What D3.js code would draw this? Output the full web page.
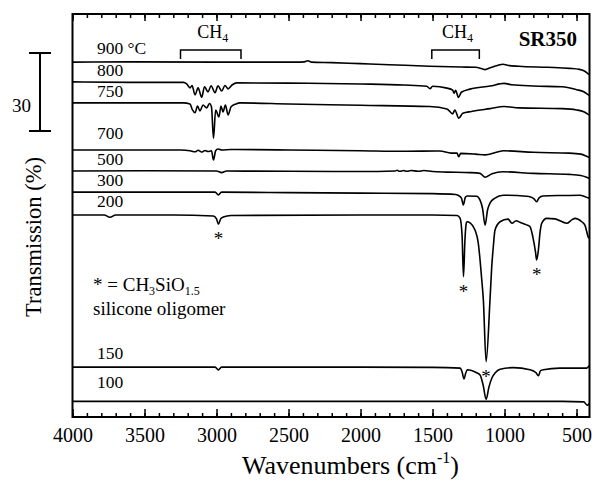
<!DOCTYPE html>
<html>
<head>
<meta charset="utf-8">
<script src="https://cdn.jsdelivr.net/npm/d3@7"></script>
<style>
  body { margin: 0; background: #fff; }
  svg { display: block; font-family: "Liberation Serif", "Times New Roman", serif; }
</style>
</head>
<body>
<svg id="chart" width="592" height="487"></svg>
<script>
// ---- data (wavenumber cm-1, transmission change in % relative to each trace's baseline)
const temps = ["900 °C", "800", "750", "700", "500", "300", "200", "150", "100"];
const baseT = [136.5, 128.7, 120.8, 102.7, 94.6, 86.5, 77.7, 19.2, 6.0];

const t900 = [[4000,0],[3600,0.1],[3000,0],[2450,0],[2390,0.1],[2365,0.5],[2340,0],[2200,-0.2],[2000,-0.6],[1800,-1.0],[1520,-1.6],[1300,-1.9],[1200,-2.0],[1160,-2.5],[1135,-2.9],[1100,-2.2],[1050,-1.3],[1010,-0.8],[980,-1.2],[900,-1.6],[700,-2.0],[550,-2.4],[480,-2.8],[440,-3.6],[420,-4.5],[413,-4.8]];
const t800 = [[4000,0.2],[3600,0],[3230,0],[3207,-0.6],[3184,-2.1],[3170,-1.2],[3149,-4.8],[3128,-2.1],[3103,-5.7],[3083,-1.7],[3059,-3.7],[3038,-1.3],[3010,-4.0],[2990,-1.3],[2964,-3.3],[2941,-1.2],[2920,-2.5],[2892,-1.0],[2860,-0.2],[2500,-0.3],[2000,-0.6],[1700,-1.0],[1540,-1.5],[1517,-2.4],[1500,-1.5],[1400,-2.2],[1360,-3.0],[1350,-4.2],[1340,-3.0],[1320,-5.8],[1300,-3.8],[1240,-2.6],[1100,-1.4],[1003,-0.4],[950,-0.9],[800,-1.4],[600,-1.7],[500,-2.8],[450,-3.6],[425,-4.5],[413,-5.0]];
const t750 = [[4000,0],[3230,0],[3184,-0.4],[3167,-2.7],[3149,-3.8],[3132,-1.2],[3115,-3.1],[3094,-0.8],[3068,-1.9],[3049,-0.2],[3035,-1.5],[3021,-13.6],[3006,-2.7],[2983,-5.4],[2969,-1.2],[2955,-3.5],[2938,-0.8],[2920,-4.6],[2899,-1.5],[2865,-0.4],[2837,0],[2500,-0.4],[2000,-0.9],[1520,-1.4],[1400,-2.3],[1360,-4.2],[1345,-2.7],[1318,-5.9],[1290,-4.0],[1230,-3.3],[1100,-2.2],[1003,-1.4],[900,-1.9],[600,-2.2],[500,-2.7],[450,-3.4],[425,-4.2],[413,-4.6]];
const t700 = [[4000,0],[3250,0],[3184,-0.3],[3149,-0.7],[3128,-0.1],[3103,-0.8],[3080,-0.2],[3059,-0.6],[3035,-0.3],[3021,-3.8],[3006,-0.3],[2990,0.4],[2962,0],[2900,0.2],[2500,0],[2000,-0.3],[1700,-0.5],[1450,-0.4],[1370,-1.2],[1330,-1.2],[1318,-2.6],[1305,-1.3],[1200,-1.6],[1135,-1.9],[1050,-0.8],[1008,-0.3],[800,-0.9],[550,-1.2],[470,-1.6],[430,-2.4],[413,-2.8]];
const t500 = [[4000,0],[3500,0.1],[3000,0],[2964,-0.6],[2930,0],[2500,-0.1],[2000,-0.2],[1760,0],[1745,0.3],[1730,-0.1],[1700,0.2],[1680,-0.1],[1650,0.2],[1600,-0.1],[1560,0.2],[1500,-0.2],[1400,-0.4],[1240,-0.6],[1170,-0.9],[1135,-2.4],[1087,-1.0],[1010,-0.3],[800,-0.9],[550,-1.3],[470,-1.7],[430,-2.4],[413,-2.8]];
const t300 = [[4000,0],[3500,0],[3010,0],[2987,-1.1],[2965,0],[2500,-0.2],[2000,-0.4],[1500,-0.6],[1340,-0.9],[1323,-1.2],[1300,-2.2],[1286,-4.9],[1272,-2.0],[1260,-1.5],[1193,-1.6],[1170,-3.1],[1153,-6.2],[1135,-12.7],[1118,-6.9],[1101,-4.2],[1066,-2.3],[1010,-1.2],[850,-1.6],[823,-1.8],[795,-2.6],[777,-3.7],[760,-2.2],[733,-1.5],[600,-1.3],[476,-1.2],[440,-1.8],[413,-2.4]];
const t200 = [[4000,0],[3780,0],[3740,-0.9],[3700,0],[3300,0],[3022,-0.4],[3000,-1.5],[2987,-3.5],[2970,-1.4],[2953,-0.8],[2900,-0.2],[2000,0],[1500,0],[1330,-0.2],[1309,-1.2],[1295,-7.7],[1285,-23.7],[1275,-9.6],[1265,-3.0],[1258,-2.6],[1240,-3.0],[1205,-5.8],[1182,-10.9],[1170,-17.3],[1158,-25],[1147,-32.7],[1128,-56.4],[1101,-32.7],[1089,-20],[1078,-12.2],[1066,-5.8],[1031,-2.6],[976,-1.6],[948,-3.2],[920,-2.2],[893,-2.8],[846,-3.8],[823,-4.5],[802,-8.8],[785,-14.2],[777,-17.3],[765,-13.5],[753,-6.5],[742,-3.2],[707,-1.3],[649,-1.5],[568,-3.2],[531,-1.8],[510,-1.3],[464,-2.6],[441,-4],[420,-8.3],[413,-9]];
const t150 = [[4000,0],[3500,0],[3010,0],[2987,-1.1],[2965,0],[2500,0],[2000,0],[1500,-0.1],[1309,-0.4],[1295,-1.8],[1281,-4.6],[1271,-2.6],[1258,-1.0],[1193,-2.2],[1170,-3.0],[1149,-6.8],[1128,-12.4],[1108,-7.6],[1087,-4.1],[1066,-2.3],[1031,-0.8],[941,-0.2],[823,-1.0],[781,-2.2],[765,-3.3],[750,-1.4],[731,-1.0],[615,-0.4],[429,-0.4],[413,0.5]];
const t100 = [[4000,0],[3000,0],[2000,0],[1000,0],[600,0],[450,-0.2],[425,-1.5],[413,-0.8]];
const traces = [t900, t800, t750, t700, t500, t300, t200, t150, t100];

const majorTicks = [4000, 3500, 3000, 2500, 2000, 1500, 1000, 500];
const minorTicks = d3.range(500, 4001, 100);
const ch4Ranges = [[3250, 2830], [1505, 1175]];
const starPeaks = [2987, 1285, 1128, 777];   // CH3SiO1.5 bands on the 200 trace
const scaleBar = [110, 140];                 // 30 % bar

// ---- layout
const svg = d3.select("#chart");
const x = d3.scaleLinear().domain([4000, 410]).range([72.5, 589.5]);
const y = d3.scaleLinear().domain([0, 155]).range([417, 14]);
const labelLift = [8, 6, 6.3, 10.7, 6, 6.3, 8.3, 7.7, 13];

// ticks (inward, top and bottom)
const bottomMajor = svg.append("g").attr("transform", `translate(0,${y(0)})`)
    .call(d3.axisBottom(x).tickValues(majorTicks).tickSize(-8).tickPadding(11).tickFormat(d3.format("d")));
svg.append("g").attr("transform", `translate(0,${y(0)})`)
    .call(d3.axisBottom(x).tickValues(minorTicks).tickSize(-4).tickFormat(""));
svg.append("g").attr("transform", `translate(0,${y(155)})`)
    .call(d3.axisTop(x).tickValues(majorTicks).tickSize(-7).tickFormat(""));
svg.append("g").attr("transform", `translate(0,${y(155)})`)
    .call(d3.axisTop(x).tickValues(minorTicks).tickSize(-4).tickFormat(""));
svg.selectAll(".domain").remove();
svg.selectAll(".tick line").attr("stroke", "#000").attr("stroke-width", 1.5);
bottomMajor.selectAll("text")
    .attr("font-family", "Liberation Serif, serif")
    .attr("font-size", 20).attr("fill", "#000");

// frame
svg.append("rect")
    .attr("x", x(4000)).attr("y", y(155))
    .attr("width", x(410) - x(4000)).attr("height", y(0) - y(155))
    .attr("fill", "none").attr("stroke", "#000").attr("stroke-width", 2);

// spectra
traces.forEach((tr, i) => {
    const line = d3.line()
        .x(d => x(d[0]))
        .y(d => y(baseT[i] + d[1]))
        .curve(d3.curveMonotoneX);
    svg.append("path")
        .attr("d", line(tr))
        .attr("fill", "none")
        .attr("stroke", "#000")
        .attr("stroke-width", 1.6)
        .attr("stroke-linejoin", "round");
});

// temperature labels
svg.selectAll("text.temp")
    .data(temps)
    .join("text")
    .attr("class", "temp")
    .attr("x", x(3830))
    .attr("y", (d, i) => y(baseT[i]) - labelLift[i])
    .attr("font-size", 17.5)
    .text(d => d);

// CH4 brackets
ch4Ranges.forEach(r => {
    const x0 = x(r[0]), x1 = x(r[1]);
    svg.append("path")
        .attr("d", `M${x0},59 V50 H${x1} V59`)
        .attr("fill", "none").attr("stroke", "#000").attr("stroke-width", 1.5);
    const t = svg.append("text")
        .attr("x", (x0 + x1) / 2 + 2).attr("y", 37.5)
        .attr("text-anchor", "middle").attr("font-size", 18);
    t.append("tspan").text("CH");
    t.append("tspan").attr("font-size", 12).attr("dy", 4).text("4");
});

svg.append("text")
    .attr("x", 577).attr("y", 46)
    .attr("text-anchor", "end")
    .attr("font-size", 21).attr("font-weight", "bold")
    .text("SR350");

// asterisks under the oligomer bands of the 200 trace
starPeaks.forEach(wn => {
    const pt = t200.find(d => d[0] === wn);
    svg.append("text")
        .attr("x", x(wn)).attr("y", y(baseT[6] + pt[1]) + 21)
        .attr("text-anchor", "middle").attr("font-size", 19)
        .text("*");
});

// legend note
const note = svg.append("text").attr("x", 93).attr("y", 291).attr("font-size", 19);
note.append("tspan").text("* = CH");
note.append("tspan").attr("font-size", 12).attr("dy", 4).text("3");
note.append("tspan").attr("dy", -4).text("SiO");
note.append("tspan").attr("font-size", 12).attr("dy", 4).text("1.5");
svg.append("text").attr("x", 93).attr("y", 315).attr("font-size", 19).text("silicone oligomer");

// 30 % scale bar
const bx = 40;
svg.append("path")
    .attr("d", `M${bx},${y(scaleBar[0])} V${y(scaleBar[1])} M${bx - 11},${y(scaleBar[0])} H${bx + 11} M${bx - 11},${y(scaleBar[1])} H${bx + 11}`)
    .attr("fill", "none").attr("stroke", "#000").attr("stroke-width", 2);
svg.append("text")
    .attr("x", 31).attr("y", 112)
    .attr("text-anchor", "end").attr("font-size", 19)
    .text(scaleBar[1] - scaleBar[0]);

// axis titles
svg.append("text")
    .attr("transform", "translate(41,237) rotate(-90)")
    .attr("text-anchor", "middle")
    .attr("font-size", 22.5)
    .text("Transmission (%)");
const xt = svg.append("text").attr("x", 242).attr("y", 474).attr("font-size", 26);
xt.append("tspan").text("Wavenumbers (cm");
xt.append("tspan").attr("font-size", 16).attr("dy", -11).text("-1");
xt.append("tspan").attr("dy", 11).text(")");
</script>
</body>
</html>
